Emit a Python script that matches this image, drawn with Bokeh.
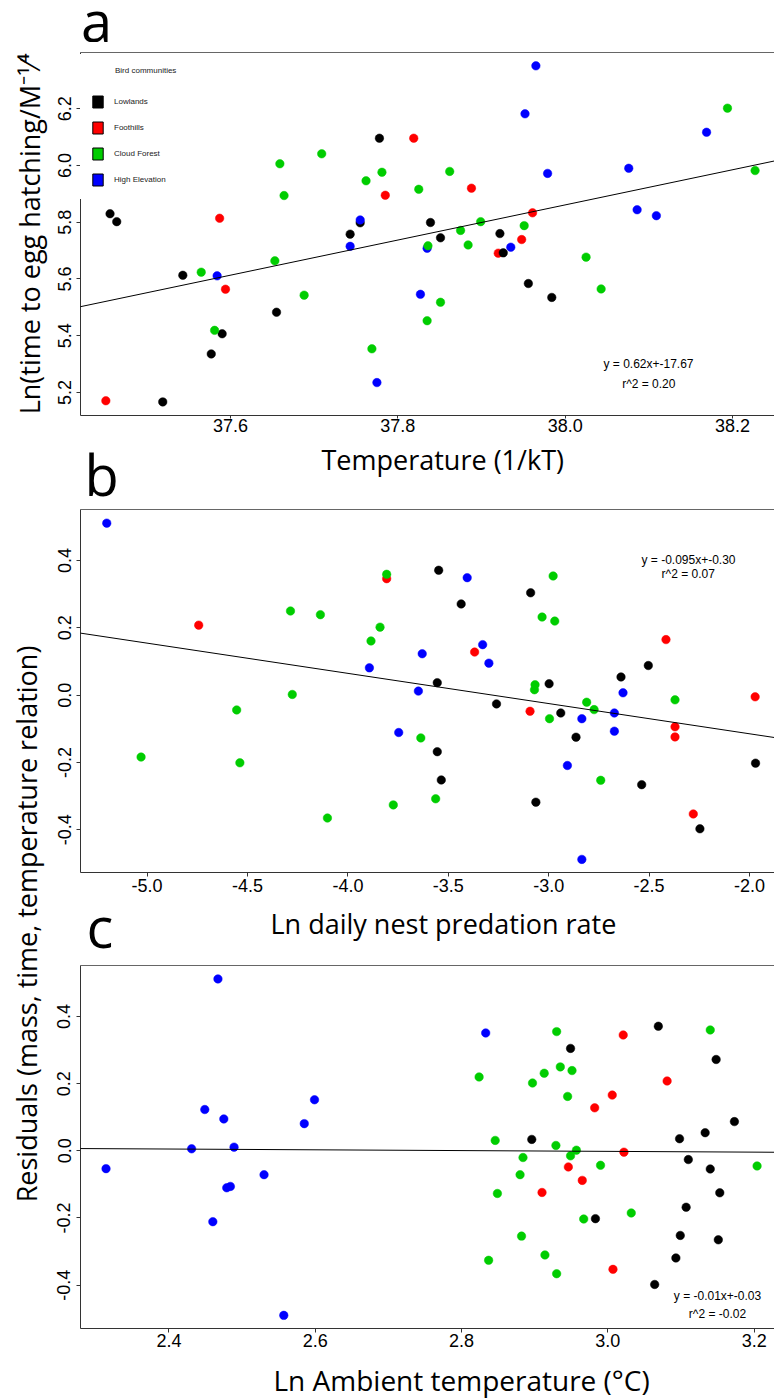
import math
from bokeh.plotting import figure
from bokeh.models import (Range1d, FixedTicker, LinearAxis, Label, Legend, LegendItem, Slope)
from bokeh.layouts import column, row
from bokeh.embed import file_html
from bokeh.resources import INLINE

# ---------------- data ----------------
GROUPS = ["Lowlands", "Foothills", "Cloud Forest", "High Elevation"]
COLORS = ["#000000", "#FF0000", "#00CD00", "#0000FF"]

# panel a : Temperature (1/kT) vs Ln(time to egg hatching / M^-1/4)
a_low_x = [37.456, 37.464, 37.778, 37.755, 37.743, 37.543, 37.655, 37.590, 37.577, 37.519,
           37.839, 37.922, 37.851, 37.926, 37.956, 37.984]
a_low_y = [5.830, 5.802, 6.096, 5.798, 5.758, 5.613, 5.483, 5.407, 5.336, 5.167,
           5.799, 5.760, 5.745, 5.692, 5.584, 5.535]
a_foot_x = [37.587, 37.785, 37.594, 37.451, 37.819, 37.888, 37.961, 37.948, 37.920]
a_foot_y = [5.814, 5.895, 5.564, 5.171, 6.096, 5.920, 5.833, 5.739, 5.691]
a_cloud_x = [37.659, 37.709, 37.664, 37.762, 37.781, 37.565, 37.653, 37.688, 37.581, 37.769,
             38.194, 37.862, 37.825, 38.227, 37.899, 37.875, 37.951, 37.884, 37.836, 38.025,
             38.043, 37.851, 37.835]
a_cloud_y = [6.006, 6.041, 5.894, 5.946, 5.976, 5.624, 5.664, 5.543, 5.419, 5.354,
             6.202, 5.979, 5.916, 5.982, 5.802, 5.771, 5.788, 5.720, 5.717, 5.677,
             5.565, 5.518, 5.453]
a_high_x = [37.755, 37.743, 37.584, 37.775, 37.965, 37.952, 38.169, 37.979, 38.076, 38.086,
            38.109, 37.835, 37.935, 37.827]
a_high_y = [5.808, 5.715, 5.611, 5.235, 6.351, 6.182, 6.117, 5.972, 5.990, 5.844,
            5.823, 5.708, 5.712, 5.546]

# panel b : Ln daily nest predation rate vs residuals
b_low_x = [-3.548, -3.090, -3.436, -2.504, -2.640, -3.555, -2.998, -3.260, -2.940, -2.864,
           -3.555, -1.970, -3.535, -2.537, -3.064, -2.247]
b_low_y = [0.371, 0.304, 0.271, 0.088, 0.054, 0.037, 0.034, -0.026, -0.053, -0.125,
           -0.168, -0.202, -0.252, -0.266, -0.318, -0.397]
b_foot_x = [-4.743, -3.807, -2.416, -3.369, -1.972, -3.093, -2.371, -2.371, -2.280]
b_foot_y = [0.208, 0.346, 0.165, 0.128, -0.005, -0.048, -0.094, -0.124, -0.353]
b_cloud_x = [-4.286, -4.137, -3.807, -3.840, -3.885, -4.277, -4.554, -5.030, -4.538, -4.102,
             -3.774, -2.978, -3.033, -2.970, -3.068, -3.071, -2.371, -2.811, -2.774, -2.996,
             -3.637, -2.741, -3.563]
b_cloud_y = [0.250, 0.239, 0.359, 0.202, 0.161, 0.002, -0.044, -0.184, -0.201, -0.365,
             -0.326, 0.354, 0.232, 0.220, 0.031, 0.016, -0.014, -0.021, -0.043, -0.070,
             -0.127, -0.253, -0.308]
b_high_x = [-5.201, -3.893, -3.747, -3.406, -3.329, -3.630, -3.298, -2.630, -3.649, -2.673,
            -2.835, -2.673, -2.907, -2.835]
b_high_y = [0.511, 0.081, -0.111, 0.349, 0.150, 0.123, 0.095, 0.007, 0.012, -0.053,
            -0.070, -0.107, -0.209, -0.488]

# panel c : Ln ambient temperature vs residuals
c_low_x = [3.069, 2.949, 3.148, 3.173, 3.133, 2.896, 3.098, 3.110, 3.140, 3.153,
           3.107, 2.983, 3.099, 3.151, 3.093, 3.064]
c_low_y = [0.371, 0.305, 0.272, 0.087, 0.054, 0.034, 0.036, -0.026, -0.054, -0.125,
           -0.168, -0.202, -0.252, -0.265, -0.319, -0.398]
c_foot_x = [3.021, 3.081, 3.006, 2.982, 3.022, 2.946, 2.965, 2.910, 3.007]
c_foot_y = [0.345, 0.208, 0.166, 0.128, -0.004, -0.048, -0.088, -0.124, -0.353]
c_cloud_x = [2.930, 3.140, 2.824, 2.913, 2.935, 2.951, 2.897, 2.945, 2.846, 2.929,
             2.957, 2.949, 2.884, 2.990, 3.204, 2.880, 2.849, 3.032, 2.967, 2.882,
             2.837, 2.914, 2.930]
c_cloud_y = [0.355, 0.360, 0.220, 0.231, 0.250, 0.239, 0.202, 0.162, 0.031, 0.016,
             0.002, -0.015, -0.020, -0.043, -0.045, -0.071, -0.127, -0.185, -0.203, -0.254,
             -0.326, -0.310, -0.366]
c_high_x = [2.467, 2.449, 2.599, 2.475, 2.585, 2.431, 2.489, 2.314, 2.530, 2.479,
            2.484, 2.460, 2.557, 2.833]
c_high_y = [0.512, 0.123, 0.152, 0.095, 0.081, 0.006, 0.011, -0.053, -0.071, -0.110,
            -0.106, -0.211, -0.490, 0.351]

# fitted lines (gradient, intercept) and printed equations
a_fit = (0.619, -17.661)
b_fit = (-0.08975, -0.2943)
c_fit = (-0.0116, 0.0332)
a_eq = ["y = 0.62x+-17.67", "r^2 = 0.20"]
b_eq = ["y = -0.095x+-0.30", "r^2 = 0.07"]
c_eq = ["y = -0.01x+-0.03", "r^2 = -0.02"]

# ticks
a_xticks = [37.6, 37.8, 38.0, 38.2]
a_xtick_labels = ["37.6", "37.8", "38.0", "38.2"]
a_yticks = [5.2, 5.4, 5.6, 5.8, 6.0, 6.2]
a_ytick_labels = ["5.2", "5.4", "5.6", "5.8", "6.0", "6.2"]
b_xticks = [-5.0, -4.5, -4.0, -3.5, -3.0, -2.5, -2.0]
b_xtick_labels = ["-5.0", "-4.5", "-4.0", "-3.5", "-3.0", "-2.5", "-2.0"]
res_yticks = [-0.4, -0.2, 0.0, 0.2, 0.4]
res_ytick_labels = ["-0.4", "-0.2", "0.0", "0.2", "0.4"]
c_xticks = [2.4, 2.6, 2.8, 3.0, 3.2]
c_xtick_labels = ["2.4", "2.6", "2.8", "3.0", "3.2"]

# ---------------- style / layout ----------------
TICK_FONT = "Liberation Sans"
LABEL_FONT = "Open Sans"
TICK_SIZE = "18px"
AXIS_COL = "#333333"
TOP_COL = "#666666"
DOT = 8.5
PAGE_W = 774
STRIP_W = 45
FRAME_L = 80        # page x of every frame's left edge (plots and text strips alike)


def mk_fig(width, height, xr, yr, ml, mt, mb):
    p = figure(width=width, height=height, x_range=Range1d(*xr), y_range=Range1d(*yr),
               min_border_left=ml, min_border_right=0, min_border_top=mt, min_border_bottom=mb,
               toolbar_location=None, output_backend="svg",
               x_axis_location=None, y_axis_location=None)
    p.outline_line_color = None
    p.xgrid.visible = False
    p.ygrid.visible = False
    p.background_fill_color = "white"
    p.border_fill_color = "white"
    return p


def text_fig(w, h, page_x0, page_y0, ml=0, mt=0, mb=0):
    """Blank figure; data units are page pixels measured from the frame's left/bottom."""
    fw, fh = w - ml, h - mt - mb
    p = figure(width=w, height=h, x_range=Range1d(0, fw), y_range=Range1d(0, fh),
               min_border_left=ml, min_border_right=0, min_border_top=mt, min_border_bottom=mb,
               toolbar_location=None, output_backend="svg",
               x_axis_location=None, y_axis_location=None)
    p.outline_line_color = None
    p.xgrid.visible = False
    p.ygrid.visible = False
    p.border_fill_color = "white"
    p.background_fill_color = "white"
    fx0 = page_x0 + ml
    fy1 = page_y0 + mt + fh
    return p, (lambda px: px - fx0), (lambda py: fy1 - py)


def add_axes(p, xt, xtl, yt, ytl, xstand, ystand, ylabel=None, xtick_out=4):
    common = dict(axis_line_color=AXIS_COL, axis_line_width=1,
                  major_tick_line_color=AXIS_COL, major_tick_in=0,
                  minor_tick_out=0, minor_tick_in=0,
                  major_label_text_font=TICK_FONT, major_label_text_font_size=TICK_SIZE,
                  major_label_text_color="black")
    xa = LinearAxis(ticker=FixedTicker(ticks=xt, minor_ticks=[]),
                    major_label_overrides={t: l for t, l in zip(xt, xtl)},
                    major_label_standoff=xstand, major_tick_out=xtick_out, **common)
    p.add_layout(xa, "below")
    ya = LinearAxis(ticker=FixedTicker(ticks=yt, minor_ticks=[]),
                    major_label_overrides={t: l for t, l in zip(yt, ytl)},
                    major_label_orientation="vertical",
                    major_label_standoff=ystand, major_tick_out=4, **common)
    if ylabel is not None:
        ya.axis_label = ylabel
        ya.axis_label_text_font = LABEL_FONT
        ya.axis_label_text_font_size = "27px"
        ya.axis_label_text_font_style = "normal"
        ya.axis_label_text_color = "black"
        ya.axis_label_standoff = 8
    p.add_layout(ya, "left")
    ta = LinearAxis(ticker=FixedTicker(ticks=[], minor_ticks=[]),
                    axis_line_color=TOP_COL, axis_line_width=1,
                    major_tick_out=0, major_tick_in=0, minor_tick_out=0, minor_tick_in=0,
                    major_label_text_font_size="0px", major_label_standoff=0)
    p.add_layout(ta, "above")


def scatter_groups(p, xs, ys):
    # draw order: foothills, lowlands, high elevation, cloud forest
    for i in [1, 0, 3, 2]:
        p.scatter(xs[i], ys[i], size=DOT, fill_color=COLORS[i], line_color=COLORS[i],
                  line_width=0.5)


def mapper(rng, lo_px, span_px, flip=False):
    a, b = rng
    if flip:
        return lambda px: b - (px - lo_px) / span_px * (b - a)
    return lambda px: a + (px - lo_px) / span_px * (b - a)


def txt(p, x, y, text, size, font=LABEL_FONT, align="left", base="middle", angle=0.0,
        color="black"):
    p.add_layout(Label(x=x, y=y, text=text, text_font=font, text_font_size=size,
                       text_align=align, text_baseline=base, angle=angle, text_color=color))


# ---------- page rows ----------
T1_Y, T1_H = 0, 42          # panel letter a
RA_Y, RA_H = 42, 397        # plot a
T2_Y, T2_H = 439, 61        # x-label a + letter b
RB_Y, RB_H = 500, 402       # plot b
T3_Y, T3_H = 902, 53        # x-label b + letter c
RC_Y, RC_H = 955, 402       # plot c
T4_Y, T4_H = 1357, 42       # x-label c

# ---------- panel a ----------
A_XR = (37.4207, 38.2502)
A_YR = (5.119, 6.398)
A_FT, A_FH = 52, 363
pa = mk_fig(PAGE_W, RA_H, A_XR, A_YR, FRAME_L, A_FT - RA_Y, RA_H - (A_FT - RA_Y) - A_FH)
add_axes(pa, a_xticks, a_xtick_labels, a_yticks, a_ytick_labels, 0, 5,
         ylabel="Ln(time to egg hatching/M\u207b\u00b9\u2044\u2074", xtick_out=3)

grp_x = [a_low_x, a_foot_x, a_cloud_x, a_high_x]
grp_y = [a_low_y, a_foot_y, a_cloud_y, a_high_y]
# zero-area, hidden quads: they only provide the square legend swatches
swatches = [pa.quad(left=gx, right=gx, top=gy, bottom=gy, fill_color=c, line_color="black",
                    line_width=1, visible=False)
            for gx, gy, c in zip(grp_x, grp_y, COLORS)]
scatter_groups(pa, grp_x, grp_y)
pa.add_layout(Slope(gradient=a_fit[0], y_intercept=a_fit[1], line_color="black", line_width=1))

LEG_PAD, LEG_TITLE_H, LEG_STANDOFF, LEG_ITEM_H, LEG_SPACING = 11, 8.5, 19, 15, 11
LEG_TOP_GAP = 4
leg_h = 2 * LEG_PAD + LEG_TITLE_H + LEG_STANDOFF + 4 * LEG_ITEM_H + 3 * LEG_SPACING
leg = Legend(items=[LegendItem(label=g, renderers=[r]) for g, r in zip(GROUPS, swatches)],
             location=(-1, A_FH - LEG_TOP_GAP - leg_h), margin=0, padding=LEG_PAD,
             spacing=LEG_SPACING, glyph_width=13, glyph_height=LEG_ITEM_H,
             label_height=LEG_ITEM_H, label_standoff=10,
             label_text_font=TICK_FONT, label_text_font_size="8px", label_text_color="#222222",
             title="\u2003\u2003\u2003Bird communities", title_text_font=TICK_FONT,
             title_text_font_size="8px", title_text_font_style="normal",
             title_text_color="#222222", title_standoff=LEG_STANDOFF,
             border_line_color="white", border_line_width=1,
             background_fill_color="white", background_fill_alpha=1.0,
             inactive_fill_alpha=0.0)
pa.add_layout(leg)

fxa = mapper(A_XR, FRAME_L, PAGE_W - FRAME_L)
fya = mapper(A_YR, A_FT, A_FH, flip=True)
txt(pa, fxa(648), fya(363.3), a_eq[0], "12px", font=TICK_FONT, align="center")
txt(pa, fxa(648.3), fya(383.3), a_eq[1], "12px", font=TICK_FONT, align="center")

# letter a
t1, t1x, t1y = text_fig(PAGE_W, T1_H, 0, T1_Y, ml=FRAME_L)
txt(t1, t1x(80.5), t1y(19.5), "a", "56px")

# x label a + letter b
t2, t2x, t2y = text_fig(PAGE_W, T2_H, 0, T2_Y, ml=FRAME_L)
txt(t2, t2x(321), t2y(458.5), "Temperature (1/kT)", "27px")
txt(t2, t2x(84), t2y(473.5), "b", "56px")

# ---------- panel b ----------
B_XR = (-5.3317, -1.8756)
B_YR = (-0.5269, 0.5515)
B_FT, B_FH = 509, 363
pb = mk_fig(PAGE_W - STRIP_W, RB_H, B_XR, B_YR, FRAME_L - STRIP_W, B_FT - RB_Y,
            RB_H - (B_FT - RB_Y) - B_FH)
add_axes(pb, b_xticks, b_xtick_labels, res_yticks, res_ytick_labels, 2, 5)
scatter_groups(pb, [b_low_x, b_foot_x, b_cloud_x, b_high_x], [b_low_y, b_foot_y, b_cloud_y, b_high_y])
pb.add_layout(Slope(gradient=b_fit[0], y_intercept=b_fit[1], line_color="black", line_width=1))
fxb = mapper(B_XR, FRAME_L, PAGE_W - FRAME_L)
fyb = mapper(B_YR, B_FT, B_FH, flip=True)
txt(pb, fxb(688), fyb(559), b_eq[0], "12px", font=TICK_FONT, align="center")
txt(pb, fxb(687.7), fyb(573.7), b_eq[1], "12px", font=TICK_FONT, align="center")

# x label b + letter c
t3, t3x, t3y = text_fig(PAGE_W - STRIP_W, T3_H, STRIP_W, T3_Y, ml=FRAME_L - STRIP_W)
txt(t3, t3x(270), t3y(922.5), "Ln daily nest predation rate", "27px")
txt(t3, t3x(86), t3y(925.5), "c", "56px")

# ---------- panel c ----------
C_XR = (2.2791, 3.2278)
C_YR = (-0.5291, 0.5519)
C_FT, C_FH = 965, 363
pc = mk_fig(PAGE_W - STRIP_W, RC_H, C_XR, C_YR, FRAME_L - STRIP_W, C_FT - RC_Y,
            RC_H - (C_FT - RC_Y) - C_FH)
add_axes(pc, c_xticks, c_xtick_labels, res_yticks, res_ytick_labels, 1, 6)
scatter_groups(pc, [c_low_x, c_foot_x, c_cloud_x, c_high_x], [c_low_y, c_foot_y, c_cloud_y, c_high_y])
pc.add_layout(Slope(gradient=c_fit[0], y_intercept=c_fit[1], line_color="black", line_width=1))
fxc = mapper(C_XR, FRAME_L, PAGE_W - FRAME_L)
fyc = mapper(C_YR, C_FT, C_FH, flip=True)
txt(pc, fxc(717), fyc(1295.7), c_eq[0], "12px", font=TICK_FONT, align="center")
txt(pc, fxc(717), fyc(1313.3), c_eq[1], "12px", font=TICK_FONT, align="center")

# x label c
t4, t4x, t4y = text_fig(PAGE_W, T4_H, 0, T4_Y, ml=FRAME_L)
txt(t4, t4x(273), t4y(1379.5), "Ln Ambient temperature (\u00b0C)", "28px")

# shared y label for b and c (strip frame aligned with frame b top and frame c bottom)
SBC_H = RB_H + T3_H + RC_H
sbc_mt = B_FT - RB_Y
sbc_mb = (RC_Y + RC_H) - (C_FT + C_FH)
sbc, sbx, sby = text_fig(STRIP_W, SBC_H, 0, RB_Y, ml=0, mt=sbc_mt, mb=sbc_mb)
txt(sbc, sbx(26), sby(920), "Residuals (mass, time, temperature  relation)", "27px",
    align="center", angle=math.pi / 2)

layout = column(
    t1,
    pa,
    t2,
    row(sbc, column(pb, t3, pc)),
    t4,
)

open("out.html", "w").write(file_html(layout, INLINE))
